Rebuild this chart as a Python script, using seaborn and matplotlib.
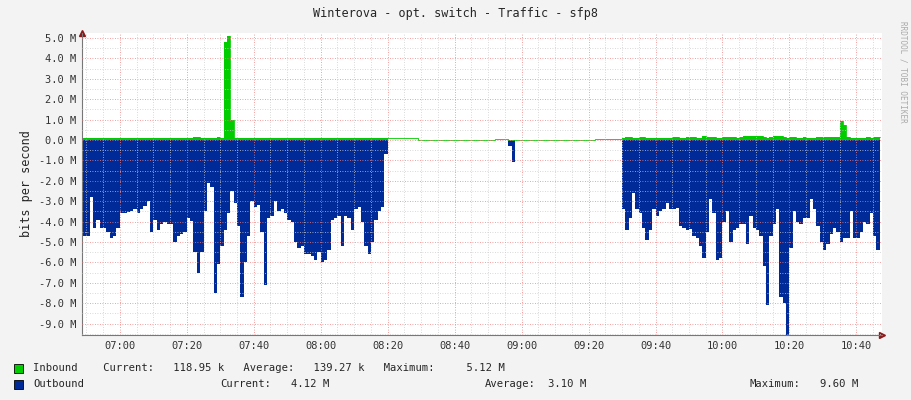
import numpy as np
import matplotlib
matplotlib.use("Agg")
import matplotlib.pyplot as plt
import seaborn as sns

# minutes relative to 07:00, 1-minute samples
left_start = -11
out_left = [-4.7, -4.7, -2.8, -4.3, -3.9, -4.3, -4.3, -4.5, -4.8, -4.7, -4.3,
            -3.6, -3.6, -3.55, -3.5, -3.4, -3.6, -3.4, -3.25, -3.0, -4.5, -3.9,
            -4.4, -4.1, -4.0, -4.1, -4.1, -5.0, -4.7, -4.6, -4.5, -3.8, -3.95,
            -5.5, -6.5, -5.5, -3.5, -2.1, -2.3, -7.5, -6.1, -5.2, -4.4, -3.6,
            -2.5, -3.1, -4.2, -7.7, -6.0, -4.7, -3.0, -3.3, -3.2, -4.5, -7.1,
            -3.8, -3.7, -3.0, -3.5, -3.4, -3.6, -3.9, -4.0, -5.0, -5.3, -5.2,
            -5.6, -5.6, -5.7, -5.9, -5.5, -6.0, -5.9, -5.4, -3.9, -3.8, -3.7,
            -5.2, -3.7, -3.8, -4.4, -3.4, -3.3, -4.0, -5.2, -5.6, -5.0, -3.9,
            -3.5, -3.3, -0.7, -0.1]
in_left = [0.1, 0.1, 0.1, 0.12, 0.1, 0.1, 0.1, 0.12, 0.1, 0.1, 0.1,
           0.1, 0.1, 0.1, 0.1, 0.1, 0.1, 0.1, 0.1, 0.1, 0.1, 0.1,
           0.1, 0.1, 0.1, 0.1, 0.1, 0.1, 0.1, 0.1, 0.1, 0.1, 0.12,
           0.15, 0.15, 0.1, 0.1, 0.1, 0.1, 0.12, 0.15, 0.1, 4.8, 5.1,
           1.0, 0.1, 0.12, 0.12, 0.1, 0.1, 0.1, 0.1, 0.12, 0.1, 0.1,
           0.1, 0.1, 0.1, 0.1, 0.1, 0.1, 0.1, 0.12, 0.12, 0.12, 0.12,
           0.12, 0.1, 0.1, 0.1, 0.1, 0.1, 0.1, 0.1, 0.1, 0.1, 0.1,
           0.1, 0.1, 0.1, 0.1, 0.1, 0.1, 0.1, 0.12, 0.1, 0.1, 0.1,
           0.1, 0.1, 0.1, 0.08]
right_start = 150
out_right = [-3.4, -4.4, -3.8, -2.6, -3.4, -3.6, -4.3, -4.9, -4.4, -3.4, -3.7,
             -3.5, -3.4, -3.1, -3.4, -3.4, -3.35, -4.2, -4.3, -4.4, -4.35, -4.7,
             -4.8, -5.2, -5.8, -4.5, -2.9, -3.6, -5.9, -5.8, -4.0, -3.5, -5.0,
             -4.4, -4.3, -4.1, -4.1, -5.1, -3.7, -4.3, -4.4, -4.7, -6.2, -8.1,
             -4.7, -4.1, -3.4, -7.7, -8.0, -9.6, -5.3, -3.5, -4.0, -4.1, -3.8,
             -3.8, -2.9, -3.4, -4.2, -5.0, -5.4, -5.1, -4.6, -4.3, -4.5, -5.0,
             -4.8, -4.8, -3.5, -4.8, -4.8, -4.5, -4.0, -4.1, -3.6, -4.7, -5.4,
             -4.2]
in_right = [0.12, 0.15, 0.15, 0.12, 0.12, 0.15, 0.15, 0.12, 0.12, 0.12, 0.12,
            0.12, 0.12, 0.12, 0.12, 0.15, 0.15, 0.12, 0.12, 0.15, 0.15, 0.15,
            0.12, 0.12, 0.2, 0.15, 0.15, 0.15, 0.12, 0.12, 0.15, 0.15, 0.15,
            0.15, 0.12, 0.15, 0.2, 0.22, 0.22, 0.18, 0.2, 0.2, 0.15, 0.12,
            0.15, 0.18, 0.18, 0.2, 0.15, 0.12, 0.15, 0.15, 0.12, 0.12, 0.15,
            0.12, 0.12, 0.12, 0.15, 0.15, 0.15, 0.15, 0.15, 0.15, 0.15, 0.95,
            0.75, 0.15, 0.12, 0.12, 0.12, 0.12, 0.12, 0.15, 0.12, 0.15, 0.15,
            0.15]
blip_minutes = [89, 112, 116, 117, 118, 142, 146]
blip_out = [-0.05, 0.0, -0.3, -1.1, -0.5, 0.0, -0.1]
blip_in = [0.02, 0.03, 0.02, 0.02, 0.02, 0.05, 0.03]

tick_minutes = [0, 20, 40, 60, 80, 100, 120, 140, 160, 180, 200, 220]
tick_labels = ["07:00", "07:20", "07:40", "08:00", "08:20", "08:40", "09:00",
               "09:20", "09:40", "10:00", "10:20", "10:40"]
ytick_vals = list(range(-9, 6))
ytick_labels = [f"{v:.1f} M" for v in ytick_vals]

# assemble full series with gaps
mins = np.arange(-11, 229)
inb = np.full(len(mins), np.nan)
outb = np.full(len(mins), np.nan)
def put(arr, start, vals):
    i = start - mins[0]
    arr[i:i + len(vals)] = vals
put(outb, left_start, out_left)
put(inb, left_start, in_left)
put(outb, right_start, out_right)
put(inb, right_start, in_right)
for m, o, n in zip(blip_minutes, blip_out, blip_in):
    outb[m - mins[0]] = o
    inb[m - mins[0]] = n

sns.set_style("white")
plt.rcParams['font.family'] = ['DejaVu Sans Mono']
GREEN = "#00CC00"
BLUE = "#002A97"

fig = plt.figure(figsize=(9.11, 4.0), dpi=100, facecolor="#F3F3F3")
ax = fig.add_axes([0.090, 0.1625, 0.878, 0.755])
ax.set_facecolor("white")

ax.fill_between(mins, 0, inb, step="post", color=GREEN, linewidth=0)
ax.fill_between(mins, 0, outb, step="post", color=BLUE, linewidth=0)
sns.lineplot(x=mins, y=inb, drawstyle="steps-post", color=GREEN, lw=0.6, ax=ax)

ax.set_xlim(-11.3, 227.6)
ax.set_ylim(-9.56, 5.25)

ax.set_xticks(tick_minutes)
ax.set_xticklabels(tick_labels, fontsize=7.5)
ax.set_xticks(np.arange(-10, 228, 5), minor=True)
ax.set_yticks(ytick_vals)
ax.set_yticklabels(ytick_labels, fontsize=7.5)
ax.set_yticks(np.arange(-9.5, 5.3, 0.5), minor=True)
ax.grid(which="minor", color="#CCCCCC", linestyle=(0, (1, 2)), lw=0.6)
ax.grid(which="major", color="#F08080", linestyle=(0, (1, 2)), lw=0.6)
ax.set_axisbelow(False)
ax.tick_params(which="both", length=2, colors="#333333", pad=2)
ax.tick_params(which="major", color="#F08080")
for s in ["top", "right"]:
    ax.spines[s].set_visible(False)
for s in ["left", "bottom"]:
    ax.spines[s].set_color("#777777")
    ax.spines[s].set_linewidth(0.8)
ax.plot(1, 0, ">", transform=ax.transAxes, clip_on=False, color="#8B1A1A", ms=4)
ax.plot(0, 1, "^", transform=ax.transAxes, clip_on=False, color="#8B1A1A", ms=4)
ax.set_ylabel("bits per second", fontsize=8.5, labelpad=4)

fig.text(0.5, 0.965, "Winterova - opt. switch - Traffic - sfp8", ha="center",
         va="center", fontsize=8.5)
fig.text(0.991, 0.82, "RRDTOOL / TOBI OETIKER", rotation=270, ha="center",
         va="center", fontsize=5.5, color="#AAAAAA")

def sq(x, y, c):
    fig.patches.append(plt.Rectangle((x / 911, 1 - y / 400 - 0.012), 9 / 911, 9 / 400,
                                     transform=fig.transFigure, facecolor=c,
                                     edgecolor="black", lw=0.6))
sq(14, 368, GREEN)
sq(14, 384, BLUE)
fs = 7.6
fig.text(33 / 911, 1 - 368 / 400, "Inbound    Current:   118.95 k   Average:   139.27 k   Maximum:     5.12 M",
         fontsize=fs, va="center")
fig.text(33 / 911, 1 - 384 / 400, "Outbound", fontsize=fs, va="center")
for x, t in [(220, "Current:"), (291, "4.12 M"), (485, "Average:"),
             (548, "3.10 M"), (750, "Maximum:"), (820, "9.60 M")]:
    fig.text(x / 911, 1 - 384 / 400, t, fontsize=fs, va="center")

fig.savefig("out.png", dpi=100, facecolor=fig.get_facecolor())
